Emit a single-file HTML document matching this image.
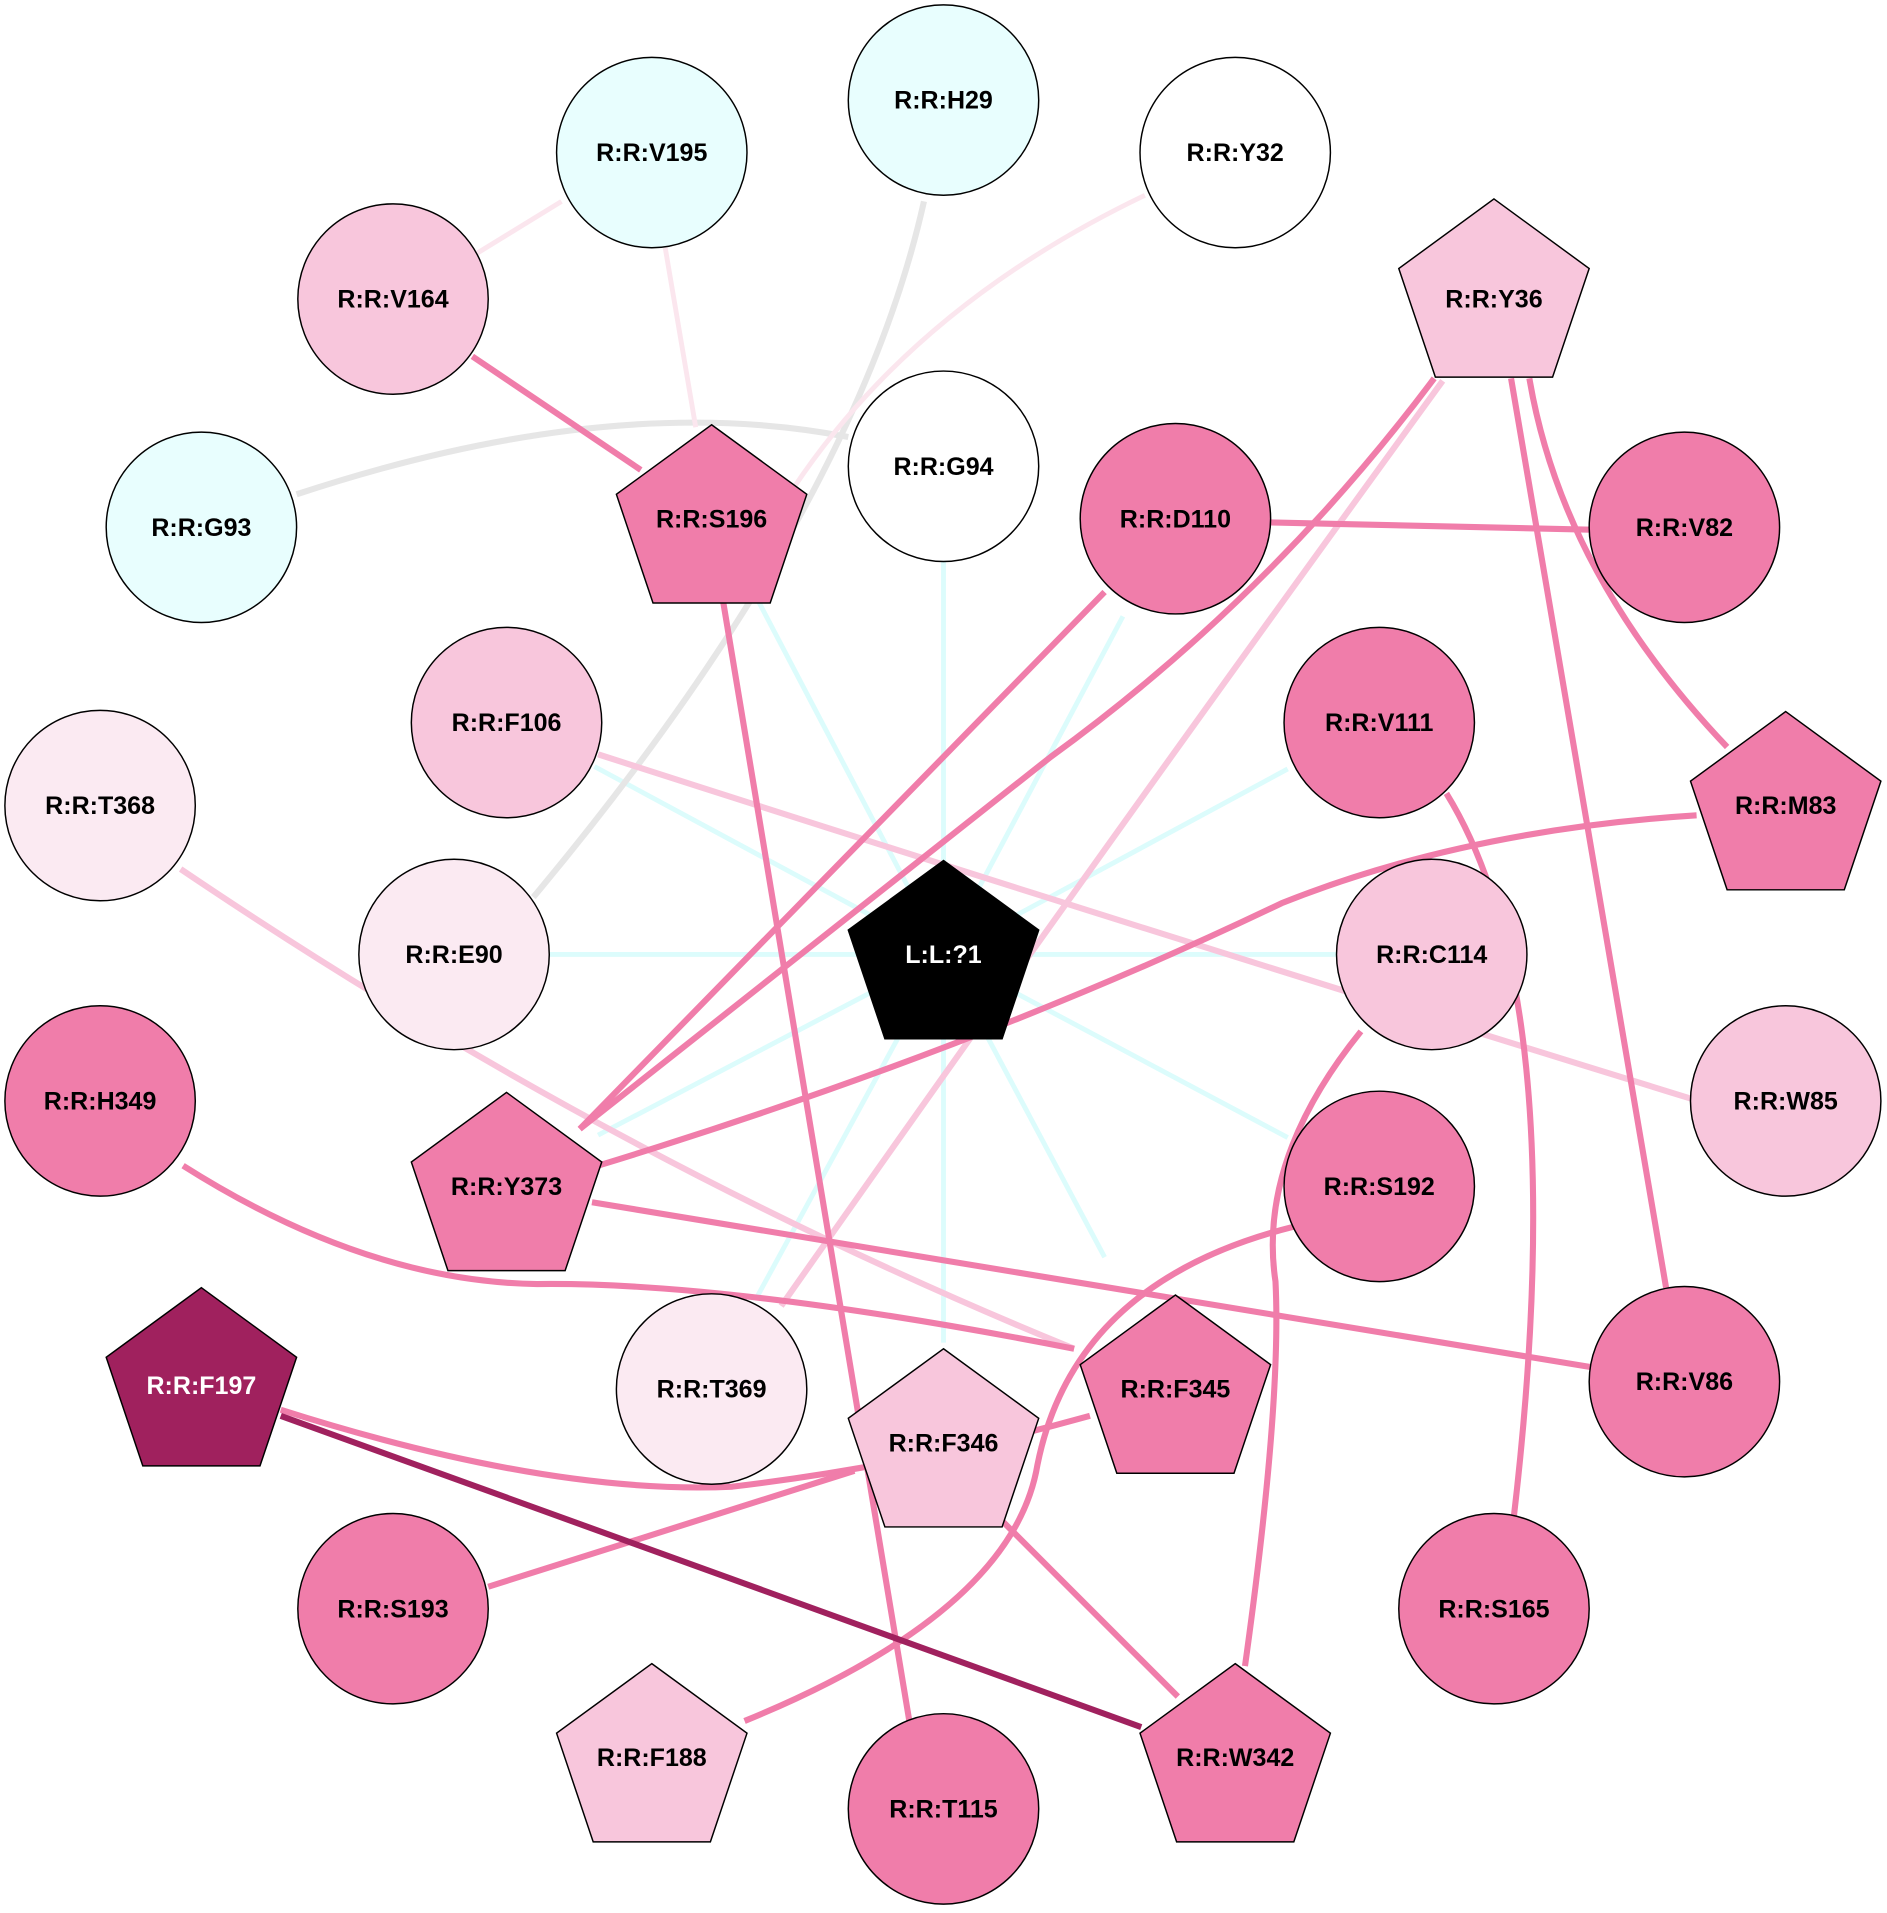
<!DOCTYPE html>
<html><head><meta charset="utf-8"><style>html,body{margin:0;padding:0;background:#fff}svg{display:block}</style></head>
<body>
<svg width="1887" height="1913" viewBox="0 0 1546 1567.3" preserveAspectRatio="none" xmlns="http://www.w3.org/2000/svg" font-family="Liberation Sans, Arial, sans-serif" font-weight="bold" font-size="20.5">
<g fill="none" stroke-linecap="butt">
<g stroke="#dcfcfc" stroke-width="4">
<line x1="773" y1="782" x2="773" y2="460"/>
<line x1="773" y1="782" x2="450" y2="782"/>
<line x1="773" y1="782" x2="1096" y2="782"/>
<line x1="773" y1="782" x2="920" y2="505"/>
<line x1="773" y1="782" x2="1055" y2="630"/>
<line x1="773" y1="782" x2="487" y2="628"/>
<line x1="773" y1="782" x2="620" y2="490"/>
<line x1="773" y1="782" x2="490" y2="930"/>
<line x1="773" y1="782" x2="1055" y2="932"/>
<line x1="773" y1="782" x2="905" y2="1030"/>
<line x1="773" y1="782" x2="773" y2="1100"/>
<line x1="773" y1="782" x2="620" y2="1063"/>
</g>
<g stroke="#e6e6e6" stroke-width="5">
<path d="M243,405 Q500,320 695,358"/>
<path d="M757,165 Q700,420 437,735"/>
</g>
<g stroke="#fbe6ee" stroke-width="4">
<line x1="460" y1="165" x2="390" y2="208"/>
<line x1="545" y1="203" x2="570" y2="350"/>
<path d="M938,160 Q750,250 650,400"/>
</g>
<g stroke="#f8c6dc" stroke-width="5">
<path d="M490,618 Q900,750 1385,900"/>
<path d="M148,712 Q500,950 880,1105"/>
<path d="M1182,312 Q900,700 640,1070"/>
</g>
<g stroke="#f07daa" stroke-width="5">
<line x1="387" y1="292" x2="525" y2="385"/>
<line x1="592" y1="490" x2="745" y2="1410"/>
<line x1="905" y1="485" x2="475" y2="925"/>
<path d="M1175,310 Q1040,490 861,620 L475,925"/>
<line x1="1041" y1="428" x2="1303" y2="434"/>
<path d="M1253,310 Q1280,470 1415,612"/>
<line x1="1238" y1="310" x2="1365" y2="1055"/>
<path d="M1185,650 Q1290,820 1240,1245"/>
<path d="M1390,668 Q1200,680 1050,740 Q800,860 490,955"/>
<path d="M1115,845 Q1030,950 1045,1050 Q1050,1150 1020,1365"/>
<path d="M1060,1005 Q880,1050 850,1200 Q830,1320 610,1410"/>
<path d="M150,955 Q300,1050 440,1052 Q600,1050 880,1105"/>
<line x1="485" y1="985" x2="1303" y2="1120"/>
<path d="M230,1155 Q450,1225 600,1218 Q750,1200 893,1160"/>
<line x1="700" y1="1205" x2="400" y2="1300"/>
<line x1="820" y1="1245" x2="965" y2="1390"/>
</g>
<line x1="230" y1="1160" x2="935" y2="1415" stroke="#a0215e" stroke-width="5"/>
</g>
<g stroke="#000" stroke-width="1.2">
<circle cx="773" cy="82" r="78" fill="#e8fefe"/>
<circle cx="534" cy="125" r="78" fill="#e8fefe"/>
<circle cx="1012" cy="125" r="78" fill="#fff"/>
<circle cx="322" cy="245" r="78" fill="#f8c6dc"/>
<circle cx="773" cy="382" r="78" fill="#fff"/>
<circle cx="165" cy="432" r="78" fill="#e8fefe"/>
<circle cx="963" cy="425" r="78" fill="#f07daa"/>
<circle cx="1380" cy="432" r="78" fill="#f07daa"/>
<circle cx="415" cy="592" r="78" fill="#f8c6dc"/>
<circle cx="1130" cy="592" r="78" fill="#f07daa"/>
<circle cx="82" cy="660" r="78" fill="#fbeaf2"/>
<circle cx="372" cy="782" r="78" fill="#fbeaf2"/>
<circle cx="1173" cy="782" r="78" fill="#f8c6dc"/>
<circle cx="82" cy="902" r="78" fill="#f07daa"/>
<circle cx="1463" cy="902" r="78" fill="#f8c6dc"/>
<circle cx="1130" cy="972" r="78" fill="#f07daa"/>
<circle cx="583" cy="1138" r="78" fill="#fbeaf2"/>
<circle cx="1380" cy="1132" r="78" fill="#f07daa"/>
<circle cx="322" cy="1318" r="78" fill="#f07daa"/>
<circle cx="1224" cy="1318" r="78" fill="#f07daa"/>
<circle cx="773" cy="1482" r="78" fill="#f07daa"/>
<polygon fill="#f8c6dc" points="1224,163 1302,220 1272,309 1176,309 1146,220"/>
<polygon fill="#f07daa" points="583,348 661,405 631,494 535,494 505,405"/>
<polygon fill="#f07daa" points="1463,583 1541,640 1511,729 1415,729 1385,640"/>
<polygon fill="#000" points="773,705 851,762 821,851 725,851 695,762"/>
<polygon fill="#f07daa" points="415,895 493,952 463,1041 367,1041 337,952"/>
<polygon fill="#a0215e" points="165,1055 243,1112 213,1201 117,1201 87,1112"/>
<polygon fill="#f8c6dc" points="773,1105 851,1162 821,1251 725,1251 695,1162"/>
<polygon fill="#f07daa" points="963,1061 1041,1118 1011,1207 915,1207 885,1118"/>
<polygon fill="#f8c6dc" points="534,1363 612,1420 582,1509 486,1509 456,1420"/>
<polygon fill="#f07daa" points="1012,1363 1090,1420 1060,1509 964,1509 934,1420"/>
</g>
<g text-anchor="middle" fill="#000">
<text x="773" y="89">R:R:H29</text>
<text x="534" y="132">R:R:V195</text>
<text x="1012" y="132">R:R:Y32</text>
<text x="322" y="252">R:R:V164</text>
<text x="1224" y="252">R:R:Y36</text>
<text x="773" y="389">R:R:G94</text>
<text x="165" y="439">R:R:G93</text>
<text x="583" y="432">R:R:S196</text>
<text x="963" y="432">R:R:D110</text>
<text x="1380" y="439">R:R:V82</text>
<text x="415" y="599">R:R:F106</text>
<text x="1130" y="599">R:R:V111</text>
<text x="82" y="667">R:R:T368</text>
<text x="1463" y="667">R:R:M83</text>
<text x="372" y="789">R:R:E90</text>
<text x="773" y="789" fill="#fff">L:L:?1</text>
<text x="1173" y="789">R:R:C114</text>
<text x="82" y="909">R:R:H349</text>
<text x="1463" y="909">R:R:W85</text>
<text x="415" y="979">R:R:Y373</text>
<text x="1130" y="979">R:R:S192</text>
<text x="165" y="1142" fill="#fff">R:R:F197</text>
<text x="583" y="1145">R:R:T369</text>
<text x="773" y="1189">R:R:F346</text>
<text x="963" y="1145">R:R:F345</text>
<text x="1380" y="1139">R:R:V86</text>
<text x="322" y="1325">R:R:S193</text>
<text x="1224" y="1325">R:R:S165</text>
<text x="534" y="1447">R:R:F188</text>
<text x="773" y="1489">R:R:T115</text>
<text x="1012" y="1447">R:R:W342</text>
</g>
</svg>
</body></html>
